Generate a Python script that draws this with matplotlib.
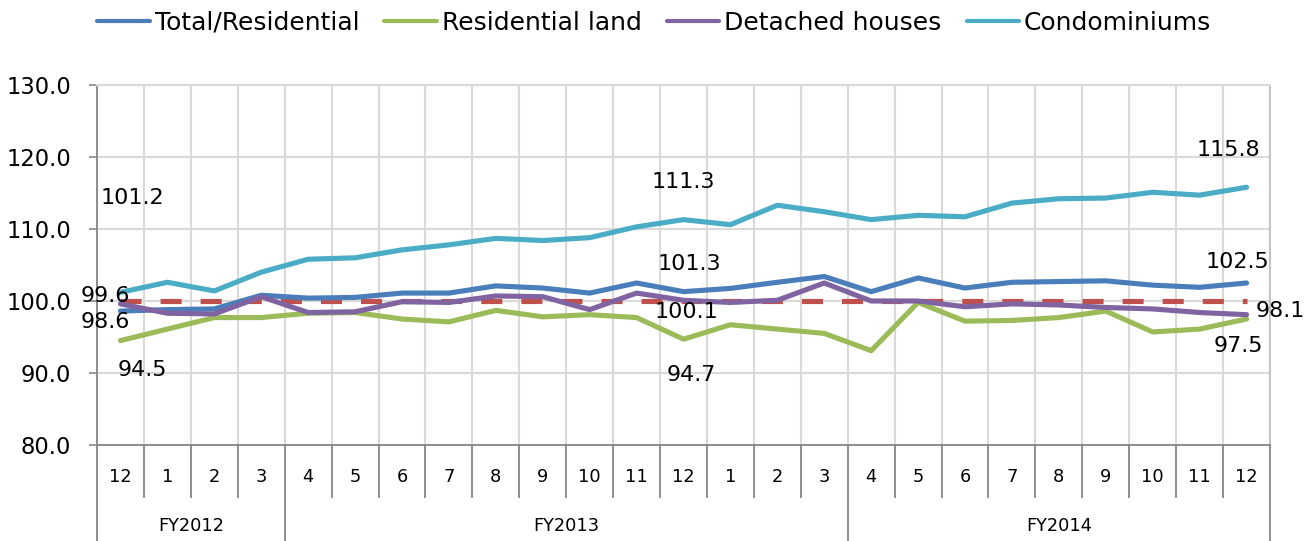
import matplotlib
matplotlib.use("Agg")
import matplotlib.pyplot as plt
from matplotlib.lines import Line2D

months = ["12", "1", "2", "3", "4", "5", "6", "7", "8", "9", "10", "11", "12",
          "1", "2", "3", "4", "5", "6", "7", "8", "9", "10", "11", "12"]
fiscal_years = ["FY2012", "FY2013", "FY2014"]
fy_sizes = [4, 12, 9]

total = [98.6, 98.8, 98.9, 100.8, 100.4, 100.5, 101.1, 101.1, 102.1, 101.8, 101.1, 102.5,
         101.3, 101.75, 102.6, 103.4, 101.3, 103.2, 101.8, 102.6, 102.7, 102.8, 102.2, 101.9, 102.5]
land = [94.5, 96.1, 97.7, 97.7, 98.3, 98.4, 97.5, 97.1, 98.7, 97.8, 98.1, 97.7,
        94.7, 96.7, 96.1, 95.5, 93.1, 99.8, 97.2, 97.3, 97.7, 98.6, 95.7, 96.1, 97.5]
detached = [99.6, 98.3, 98.2, 100.6, 98.4, 98.5, 99.9, 99.8, 100.7, 100.6, 98.8, 101.1,
            100.1, 99.8, 100.1, 102.5, 100.0, 100.0, 99.2, 99.6, 99.45, 99.1, 98.9, 98.4, 98.1]
condo = [101.2, 102.6, 101.4, 104.0, 105.8, 106.0, 107.1, 107.8, 108.7, 108.4, 108.8, 110.3,
         111.3, 110.6, 113.3, 112.4, 111.3, 111.9, 111.7, 113.6, 114.2, 114.3, 115.1, 114.7, 115.8]
baseline = [100.0] * len(months)

series_names = ["Total/Residential", "Residential land", "Detached houses", "Condominiums"]
colors = ["#4A7EBB", "#9BBB59", "#8064A2", "#4BACC6"]
base_color = "#C0504D"

# labelled points: (series index, category index, offset px (dx, dy up))
labels = [
    (3, 0, (12, 94)), (2, 0, (-15, 8)), (0, 0, (-15, -11)), (1, 0, (22, -29)),
    (3, 12, (0, 38)), (0, 12, (6, 28)), (2, 12, (3, -12)), (1, 12, (8, -36)),
    (3, 24, (-18, 37)), (0, 24, (-9, 21)), (2, 24, (34, 4)), (1, 24, (-8, -27)),
]

plt.rcParams['font.family'] = ['DejaVu Sans']
fig = plt.figure(figsize=(13.14, 5.41), dpi=100)
ax = fig.add_axes([97 / 1314, 1 - 445 / 541, (1270 - 97) / 1314, 360 / 541])

x = list(range(len(months)))
data = [total, land, detached, condo]
lw = 3.7
ax.plot(x, baseline, color=base_color, lw=lw, dashes=(4.1, 3.7), zorder=2)
order = [3, 1, 0, 2]
for k in order:
    ax.plot(x, data[k], color=colors[k], lw=lw, solid_capstyle='round', zorder=3)

for s, i, (dx, dy) in labels:
    v = data[s][i]
    ax.annotate(f"{v:.1f}", xy=(i, v), xytext=(dx, dy), textcoords='offset pixels',
                ha='center', va='center', fontsize=16, color='#000000', zorder=5)

ax.set_xlim(-0.5, len(months) - 0.5)
ax.set_ylim(80, 130)
yt = [80, 90, 100, 110, 120, 130]
ax.set_yticks(yt)
ax.set_yticklabels([f"{t:.1f}" for t in yt], fontsize=16.3)
ax.tick_params(axis='y', direction='out', length=5.5, width=1.2, color='#868686', pad=13)
ax.set_xticks([i - 0.5 for i in range(len(months) + 1)])
ax.set_xticklabels([])
ax.tick_params(axis='x', length=0)
ax.grid(True, axis='both', color='#D9D9D9', lw=1.5, zorder=0)
for sp in ['left', 'right', 'bottom']:
    ax.spines[sp].set_color('#868686')
    ax.spines[sp].set_linewidth(1.3)
ax.spines['top'].set_color('#D9D9D9')
ax.spines['top'].set_linewidth(1.5)
ax.spines['right'].set_color('#BFBFBF')

trans = ax.get_xaxis_transform()
sep_color = '#868686'
for i, m in enumerate(months):
    ax.text(i, -0.09, m, transform=trans, ha='center', va='center', fontsize=12.8)
boundaries = [-0.5]
acc = -0.5
for n in fy_sizes:
    acc += n
    boundaries.append(acc)
for b in range(len(months) + 1):
    xb = b - 0.5
    depth = -0.267 if xb in boundaries else -0.144
    ax.add_line(Line2D([xb, xb], [0, depth], transform=trans, color=sep_color, lw=1.3, clip_on=False))
for j, fy in enumerate(fiscal_years):
    c = (boundaries[j] + boundaries[j + 1]) / 2
    ax.text(c, -0.225, fy, transform=trans, ha='center', va='center', fontsize=12.8)

handles = [Line2D([], [], color=c, lw=3.0, solid_capstyle='round') for c in colors]
fig.legend(handles, series_names, loc='upper center', bbox_to_anchor=(0.498, 1.022), ncol=4,
           frameon=False, fontsize=18, handlelength=2.1, handletextpad=0.2, columnspacing=1.0)

fig.savefig("out.png", dpi=100)
